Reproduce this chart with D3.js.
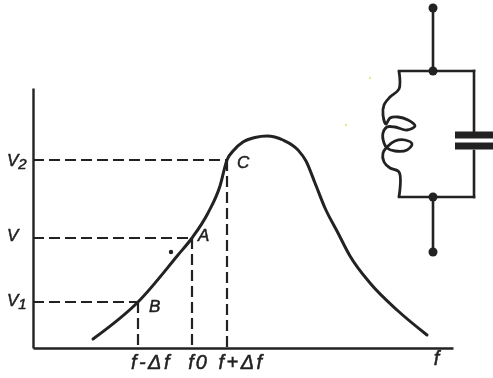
<!DOCTYPE html>
<html>
<head>
<meta charset="utf-8">
<script src="https://cdn.jsdelivr.net/npm/d3@7"></script>
<style>
html, body { margin: 0; background: #fff; }
svg { display: block; filter: blur(0.4px); }
text { font-family: "Liberation Sans", sans-serif; font-style: italic; fill: #222; stroke: #222; stroke-width: 0.5px; }
</style>
</head>
<body>
<div id="chart"></div>
<script>
// resonance curve (f and V in chart units from the axis corner)
const curveF = [60, 105, 145, 159, 175, 187, 194, 201, 210, 222, 234, 250, 265, 273, 282, 292, 305, 317, 337, 364, 394];
const curveV = [9, 46, 93, 110, 135, 162, 188, 198, 206, 210.5, 212, 208, 198, 187, 165, 140, 115, 92, 65, 38, 13];

// working points A, B, C
const pointNames = ["B", "A", "C"];
const pointF = [105, 159, 194];
const pointV = [46, 110, 188];

const fTicks = [105, 159, 194, 403];
const fLabels = ["f-Δf", "f0", "f+Δf", "f"];
const vTicks = [46, 110, 188];
const vLabels = ["V1", "V", "V2"];

// parallel LC circuit, units from the top left terminal of its box
const coilX = [0, 0, -9, -15, -16, -13, -9, -1, 9, 16, 8, -4, -12, -16, -15, -12, -4, 8, 13, 6, -4, -12, -16, -15, -9, 0, 0];
const coilY = [63, 81, 89, 97, 107, 116, 110, 109, 112, 118, 122, 119, 119, 125, 135, 140, 143, 142, 136, 132, 133, 139, 145, 154, 160, 164, 189];
const wireX = [[34, 34], [34, 34], [0, 75], [0, 75], [75, 75], [75, 75]];
const wireY = [[0, 63], [189, 244], [63, 63], [189, 189], [63, 125], [143, 189]];
const nodeX = [34, 34, 34, 34];
const nodeY = [0, 63, 189, 244];
const plateX = [56, 95];
const plateY = [127, 138];

// yellow specks from the scan, same units as the circuit
const stainX = [-29, -53];
const stainY = [70, 117];

const width = 493, height = 378;

const x = d3.scaleLinear().domain([0, 420]).range([33, 453]);
const y = d3.scaleLinear().domain([0, 260]).range([348, 88]);
const cx = d3.scaleLinear().domain([0, 75]).range([399, 474]);
const cy = d3.scaleLinear().domain([0, 244]).range([8, 252]);

const svg = d3.select("#chart").append("svg")
    .attr("width", width)
    .attr("height", height);

const ink = "#222";

// axes
const fShift = [13, 6, 14, 0];
const fLift = [0, 0, 0, 4];
const xAxis = svg.append("g")
    .attr("transform", "translate(0," + y(0) + ")")
    .call(d3.axisBottom(x).tickValues(fTicks).tickSize(0).tickPadding(7)
        .tickFormat((d, i) => fLabels[i]));
xAxis.select(".domain").attr("stroke", ink).attr("stroke-width", 2.4);
xAxis.selectAll("text")
    .attr("font-size", 20)
    .attr("letter-spacing", (d, i) => i == 1 ? 2 : i == 3 ? 0 : 2.5)
    .attr("dx", (d, i) => fShift[i])
    .attr("transform", (d, i) => "translate(0," + (-fLift[i]) + ")");

const vShift = [-2, -3, 0];
const yAxis = svg.append("g")
    .attr("transform", "translate(" + x(0) + ",0)")
    .call(d3.axisLeft(y).tickValues(vTicks).tickSize(0)
        .tickFormat((d, i) => vLabels[i]));
yAxis.select(".domain").attr("stroke", ink).attr("stroke-width", 2.4);
yAxis.selectAll("text")
    .attr("font-size", 17)
    .attr("text-anchor", "start")
    .attr("x", -26)
    .attr("transform", (d, i) => "translate(0," + vShift[i] + ")")
    .each(function(d, i) {
        const label = vLabels[i];
        const t = d3.select(this).text(null);
        t.append("tspan").text(label[0]);
        if (label[1]) t.append("tspan").attr("dy", 3).attr("font-size", 15).text(label[1]);
    });

// dashed guides
const guides = svg.append("g")
    .attr("fill", "none")
    .attr("stroke", ink)
    .attr("stroke-width", 2.2)
    .attr("stroke-dasharray", "11 5");
guides.selectAll(".hguide")
    .data(pointF)
    .enter()
    .append("line")
    .attr("class", "hguide")
    .attr("x1", x(0))
    .attr("x2", d => x(d))
    .attr("y1", (d, i) => y(pointV[i]))
    .attr("y2", (d, i) => y(pointV[i]));
guides.selectAll(".vguide")
    .data(pointF)
    .enter()
    .append("line")
    .attr("class", "vguide")
    .attr("x1", d => x(d))
    .attr("x2", d => x(d))
    .attr("y1", (d, i) => y(pointV[i]))
    .attr("y2", y(0));

// curve
const line = d3.line()
    .x(d => x(curveF[d]))
    .y(d => y(curveV[d]))
    .curve(d3.curveMonotoneX);
svg.append("path")
    .attr("d", line(d3.range(curveF.length)))
    .attr("fill", "none")
    .attr("stroke", ink)
    .attr("stroke-width", 3)
    .attr("stroke-linecap", "round");

// point names
const nameDx = { B: 11, A: 6, C: 10 };
const nameDy = { B: 10, A: 3, C: 8 };
svg.selectAll(".pointName")
    .data(pointNames)
    .enter()
    .append("text")
    .attr("class", "pointName")
    .attr("x", (d, i) => x(pointF[i]) + nameDx[d])
    .attr("y", (d, i) => y(pointV[i]) + nameDy[d])
    .attr("font-size", 17)
    .text(d => d);

// stray dot next to A
svg.append("circle")
    .attr("cx", x(138))
    .attr("cy", y(96))
    .attr("r", 2.2)
    .attr("fill", ink);

// circuit
const circuit = svg.append("g");
circuit.selectAll(".wire")
    .data(wireX)
    .enter()
    .append("line")
    .attr("class", "wire")
    .attr("x1", d => cx(d[0]))
    .attr("x2", d => cx(d[1]))
    .attr("y1", (d, i) => cy(wireY[i][0]))
    .attr("y2", (d, i) => cy(wireY[i][1]))
    .attr("stroke", ink)
    .attr("stroke-width", 2.6)
    .attr("stroke-linecap", "square");

const coil = d3.line()
    .x(d => cx(coilX[d]))
    .y(d => cy(coilY[d]))
    .curve(d3.curveCatmullRom);
circuit.append("path")
    .attr("d", coil(d3.range(coilX.length)))
    .attr("fill", "none")
    .attr("stroke", ink)
    .attr("stroke-width", 2.8);

circuit.selectAll(".node")
    .data(nodeX)
    .enter()
    .append("circle")
    .attr("class", "node")
    .attr("cx", d => cx(d))
    .attr("cy", (d, i) => cy(nodeY[i]))
    .attr("r", 4.5)
    .attr("fill", ink);

circuit.selectAll(".plate")
    .data(plateY)
    .enter()
    .append("line")
    .attr("class", "plate")
    .attr("x1", cx(plateX[0]))
    .attr("x2", cx(plateX[1]))
    .attr("y1", d => cy(d))
    .attr("y2", d => cy(d))
    .attr("stroke", ink)
    .attr("stroke-width", 7);

svg.selectAll(".stain")
    .data(stainX)
    .enter()
    .append("circle")
    .attr("class", "stain")
    .attr("cx", d => cx(d))
    .attr("cy", (d, i) => cy(stainY[i]))
    .attr("r", 1.2)
    .attr("fill", "#e6e89a");
</script>
</body>
</html>
